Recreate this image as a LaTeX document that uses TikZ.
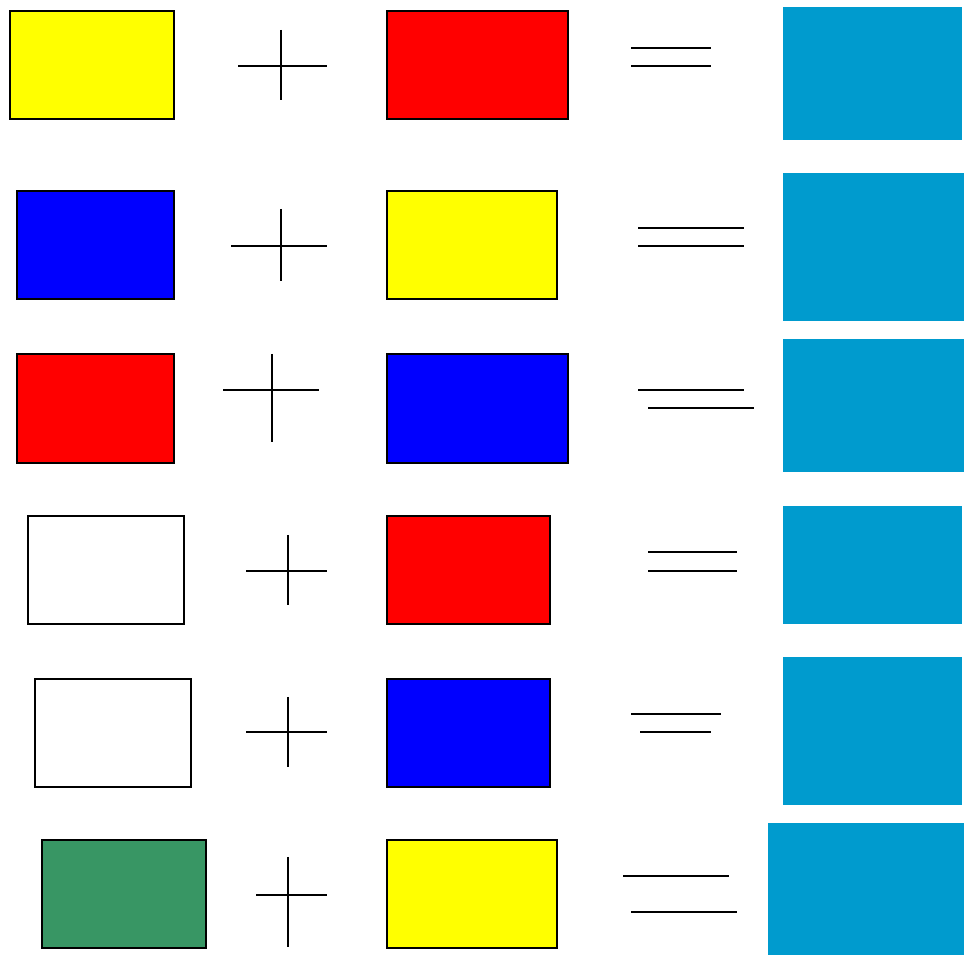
\documentclass[tikz,border=0pt]{standalone}
\usepackage{xcolor}
\usepackage{tikz}
\definecolor{PaintYellow}{RGB}{255,255,0}
\definecolor{PaintRed}{RGB}{255,0,0}
\definecolor{PaintBlue}{RGB}{0,0,255}
\definecolor{PaintGreen}{RGB}{56,150,100}
\definecolor{MixCyan}{RGB}{0,155,206}
\tikzset{
  swatch/.style={draw=black, line width=0.9pt},
  answer/.style={fill=MixCyan, draw=none},
  signline/.style={draw=black, line width=1.1pt},
}
\begin{document}
\begin{tikzpicture}[x=0.02cm, y=-0.02cm]
  \useasboundingbox (0,0) rectangle (965,955);
  % row 1
  \filldraw[swatch, fill=PaintYellow] (10,11) rectangle (174,119);
  \draw[signline] (238,66) -- (327,66) (281,30) -- (281,100);
  \filldraw[swatch, fill=PaintRed] (387,11) rectangle (568,119);
  \draw[signline] (631,48) -- (711,48) (631,66) -- (711,66);
  \fill[answer] (783,7) rectangle (962,140);
  % row 2
  \filldraw[swatch, fill=PaintBlue] (17,191) rectangle (174,299);
  \draw[signline] (231,246) -- (327,246) (281,209) -- (281,281);
  \filldraw[swatch, fill=PaintYellow] (387,191) rectangle (557,299);
  \draw[signline] (638,228) -- (744,228) (638,246) -- (744,246);
  \fill[answer] (783,173) rectangle (964,321);
  % row 3
  \filldraw[swatch, fill=PaintRed] (17,354) rectangle (174,463);
  \draw[signline] (223,390) -- (319,390) (272,354) -- (272,442);
  \filldraw[swatch, fill=PaintBlue] (387,354) rectangle (568,463);
  \draw[signline] (638,390) -- (744,390) (648,408) -- (754,408);
  \fill[answer] (783,339) rectangle (964,472);
  % row 4
  \draw[swatch, fill=white] (28,516) rectangle (184,624);
  \draw[signline] (246,571) -- (327,571) (288,535) -- (288,605);
  \filldraw[swatch, fill=PaintRed] (387,516) rectangle (550,624);
  \draw[signline] (648,552) -- (737,552) (648,571) -- (737,571);
  \fill[answer] (783,506) rectangle (962,624);
  % row 5
  \draw[swatch, fill=white] (35,679) rectangle (191,787);
  \draw[signline] (246,732) -- (327,732) (288,697) -- (288,767);
  \filldraw[swatch, fill=PaintBlue] (387,679) rectangle (550,787);
  \draw[signline] (631,714) -- (721,714) (640,732) -- (711,732);
  \fill[answer] (783,657) rectangle (962,805);
  % row 6
  \filldraw[swatch, fill=PaintGreen] (42,840) rectangle (206,948);
  \draw[signline] (256,895) -- (327,895) (288,857) -- (288,947);
  \filldraw[swatch, fill=PaintYellow] (387,840) rectangle (557,948);
  \draw[signline] (623,876) -- (729,876) (631,912) -- (737,912);
  \fill[answer] (768,823) rectangle (964,955);
\end{tikzpicture}
\end{document}
